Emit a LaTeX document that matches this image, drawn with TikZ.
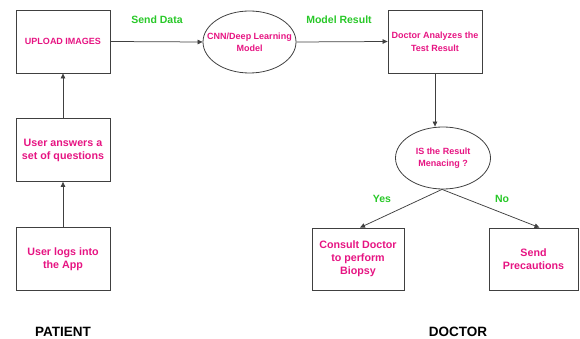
\documentclass[tikz,border=0pt]{standalone}
\usepackage{fontspec}
\setmainfont{Liberation Sans}
\usetikzlibrary{arrows.meta,shapes.geometric}
\definecolor{txtpink}{RGB}{230,20,130}
\definecolor{txtgreen}{RGB}{40,200,40}
\begin{document}
\begin{tikzpicture}[x=1pt,y=-1pt,
  box/.style={draw=black!75, line width=0.8pt, minimum width=94pt, minimum height=63pt, inner sep=0pt, align=center, text=txtpink, font=\fontsize{9}{12.7}\selectfont\bfseries},
  bigtext/.style={font=\fontsize{10.7}{13}\selectfont\bfseries},
  ell/.style={ellipse, draw=black!75, line width=0.8pt, minimum width=94pt, minimum height=62pt, inner sep=0pt},
  elltext/.style={align=center, inner sep=0pt, text=txtpink, font=\fontsize{9}{11.7}\selectfont\bfseries},
  conn/.style={draw=black!75, line width=0.75pt, -{Triangle[length=5pt,width=4.5pt]}},
  lbl/.style={text=txtgreen, font=\fontsize{10.5}{12}\selectfont\bfseries},
  ttl/.style={font=\fontsize{13.5}{15}\selectfont\bfseries}]
\useasboundingbox (0,0) rectangle (580,339);
\node[box] (up) at (63,41.5) {UPLOAD IMAGES};
\node[box, bigtext] (ans) at (63,150) {User answers a\\set of questions};
\node[box, bigtext] (log) at (63,259) {User logs into\\the App};
\node[ell, minimum width=93pt] (cnn) at (249.5,42) {};
\node[elltext] (cnnt) at (cnn.center) {CNN/Deep Learning\\Model};
\node[box] (doc) at (435,41.5) {Doctor Analyzes the\\Test Result};
\node[ell, minimum width=95pt] (men) at (443,158) {};
\node[elltext] (ment) at (men.center) {IS the Result\\Menacing ?};
\node[box, bigtext, minimum width=92pt, minimum height=62pt] (con) at (358,259) {Consult Doctor\\to perform\\Biopsy};
\node[box, bigtext, minimum width=89pt, minimum height=62pt] (snd) at (533.5,259) {Send\\Precautions};
\node[lbl] (l1) at (157,20) {Send Data};
\node[lbl] (l2) at (339,20) {Model Result};
\node[lbl] (l3) at (382,199) {Yes};
\node[lbl] (l4) at (502,199) {No};
\node[ttl] (pat) at (63,332) {PATIENT};
\node[ttl] (dct) at (458,332) {DOCTOR};
\draw[conn] (log.north) -- (ans.south);
\draw[conn] (ans.north) -- (up.south);
\draw[conn] (up.east) -- (cnn.west);
\draw[conn] (cnn.east) -- (doc.west);
\draw[conn] (doc.south) -- (doc.south |- men.north);
\draw[conn] ([xshift=-1pt]men.south) -- ([xshift=2pt]con.north);
\draw[conn] ([xshift=-1pt]men.south) -- ([xshift=6pt]snd.north);
\end{tikzpicture}
\end{document}
